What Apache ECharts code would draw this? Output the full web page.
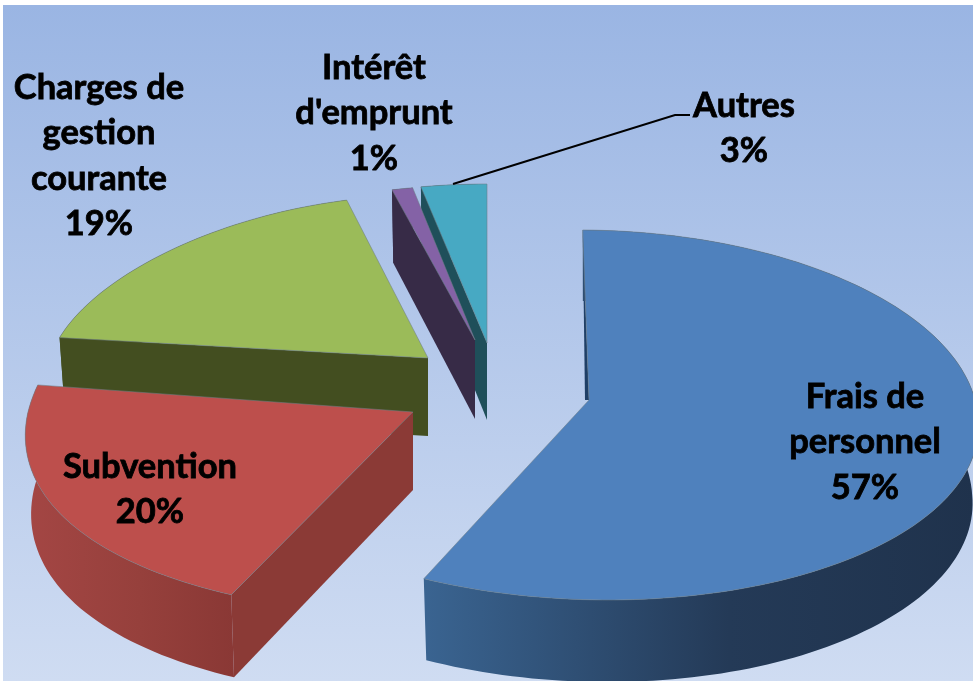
<!DOCTYPE html>
<html><head><meta charset="utf-8">
<style>html,body{margin:0;padding:0;background:#fff}#c{width:973px;height:681px}</style>
<script src="https://cdn.jsdelivr.net/npm/echarts@6/dist/echarts.min.js"></script>
</head><body><div id="c"></div>
<script>
var categories = ["Frais de\npersonnel", "Subvention", "Charges de\ngestion\ncourante", "Intérêt\nd'emprunt", "Autres"];
var values = [57, 20, 19, 1, 3];

// styling and projection of each slice (same order as categories)
var topColors  = ['#4f81bd', '#bd4f4c', '#9bbb59', '#8462a6', '#47a9c3'];
var faceColors = ['#1f3f66', '#8b3a36', '#434e20', '#372b47', '#1f4f5a'];
var rimColors  = [['#3a6491', '#243a57', '#1f324c'], ['#a44644', '#96403c', '#8a3835'],
                  ['#434e20', '#434e20', '#434e20'], ['#372b47', '#372b47', '#372b47'], ['#1f4f5a', '#1f4f5a', '#1f4f5a']];
var geometry = [
  {ax: 589, ay: 400, d: 77, shift: -4, ell: {cx: 590, cy: 418, rx: 388, ryF: 188, ryN: 182, shF: -12, shN: 18, t0: 0.7, t1: 1.0102}},
  {ax: 413, ay: 412, rx: 385, ryF: 216, ryN: 202, q: 0.12, d: 78, shift: 0},
  {ax: 428, ay: 358, rx: 378, ryF: 163, ryN: 200, q: 0,    d: 78, shift: 0},
  {ax: 475, ay: 340, rx: 386, ryF: 155, ryN: 200, q: 0,    d: 79, shift: 0},
  {ax: 487, ay: 343, rx: 409, ryF: 159, ryN: 200, q: 0,    d: 77, shift: 0}
];
var drawOrder = [5, 4, 1, 3, 2];
var labelPos = [[865, 396], [150, 466], [99, 87], [374, 67], [744, 105]];
var leader = [[453, 184], [675, 115], [690, 115]];
var total = values.reduce(function (a, b) { return a + b; }, 0);

function pt(s, deg) {
  if (s.ell) {
    var e = s.ell, tr = (e.t0 + e.t1 * deg) * Math.PI / 180, ts = Math.sin(tr), tc = Math.cos(tr);
    return [e.cx + e.rx * ts + (tc > 0 ? e.shF : e.shN) * Math.abs(tc),
            e.cy - (tc > 0 ? e.ryF : e.ryN) * tc];
  }
  var r = deg * Math.PI / 180, sn = Math.sin(r), cs = Math.cos(r);
  var far = Math.max(cs, 0), near = Math.max(-cs, 0);
  var f = 1 - 0.14 * far + s.q * near;
  return [s.ax + s.rx * sn * f, s.ay - (cs > 0 ? s.ryF : s.ryN) * cs];
}
function low(s, deg, p) {
  var r = deg * Math.PI / 180, cs = Math.cos(r);
  return [s.ax + (p[0] - s.ax) * 0.985, p[1] + s.d - 6 * Math.max(cs, 0) + 5 * Math.max(-cs, 0)];
}

function renderItem(params, api) {
  var i = params.dataIndex, s = geometry[i], before = 0;
  for (var j = 0; j < i; j++) before += values[j];
  var a0 = before / total * 360, a1 = a0 + api.value(1) / total * 360;
  var n = Math.max(2, Math.ceil((a1 - a0) / 1.5)), arc = [], arcLow = [];
  for (var t = 0; t <= n; t++) {
    var a = a0 + (a1 - a0) * t / n, p = pt(s, a);
    arc.push(p); arcLow.push(low(s, a, p));
  }
  var z = drawOrder[i] * 10, apex = [s.ax, s.ay], apexLow = [s.ax, s.ay + s.d];
  var face = s.shift ? [arc[0], apex, [s.ax + s.shift, s.ay]] : [arc[0], apex, apexLow, arcLow[0]];
  var rc = rimColors[i];
  var children = [
    {type: 'polygon', z2: z, shape: {points: face}, style: {fill: faceColors[i]}},
    {type: 'polygon', z2: z + 1, shape: {points: arc.concat(arcLow.slice().reverse())},
      style: {fill: {type: 'linear', x: 0, y: 0, x2: 1, y2: 0, colorStops: [
        {offset: 0, color: rc[0]}, {offset: 0.55, color: rc[1]}, {offset: 1, color: rc[2]}]}}},
    {type: 'polygon', z2: z + 2, shape: {points: [apex].concat(arc)},
      style: {fill: topColors[i], stroke: 'rgba(110,125,135,0.55)', lineWidth: 1}}
  ];
  return {type: 'group', children: children};
}

function labelItem(params, api) {
  var i = params.dataIndex, pos = labelPos[i];
  return {type: 'text', z2: 100, style: {
    text: categories[i] + '\n' + api.value(1) + '%',
    x: pos[0], y: pos[1] - 22, textAlign: 'center', textVerticalAlign: 'top',
    font: 'bold 34.5px Lato', lineHeight: 45.5, fill: '#000', stroke: '#000', lineWidth: 0.8
  }};
}

var chart = echarts.init(document.getElementById('c'), null, {renderer: 'canvas', width: 973, height: 681});
var rows = values.map(function (v, i) { return [i, v]; });
chart.setOption({
  animation: false,
  backgroundColor: '#fff',
  graphic: [{type: 'rect', z: -10, silent: true, shape: {x: 3, y: 5, width: 970, height: 676},
    style: {fill: {type: 'linear', x: 0, y: 0, x2: 0, y2: 1, colorStops: [
      {offset: 0, color: '#9ab5e3'}, {offset: 1, color: '#cfdcf2'}]}}}],
  series: [
    {type: 'custom', coordinateSystem: 'none', data: rows, renderItem: renderItem, silent: true, z: 2},
    {type: 'custom', coordinateSystem: 'none', data: [0], silent: true, z: 3, renderItem: function () {
      return {type: 'polyline', shape: {points: leader}, style: {stroke: '#000', lineWidth: 2, fill: 'none'}};
    }},
    {type: 'custom', coordinateSystem: 'none', data: rows, renderItem: labelItem, silent: true, z: 4}
  ]
});
</script></body></html>
